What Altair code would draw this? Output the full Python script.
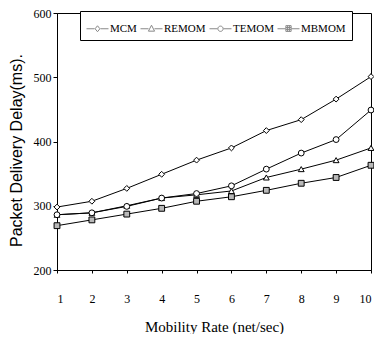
import altair as alt
import pandas as pd

rates = [1, 2, 3, 4, 5, 6, 7, 8, 9, 10]
series_names = ["MCM", "REMOM", "TEMOM", "MBMOM"]
mcm = [298, 307, 327, 349, 371, 390, 417, 434, 466, 501]
remom = [286, 289, 300, 312, 317, 323, 344, 357, 371, 390]
temom = [286, 289, 299, 312, 319, 331, 357, 382, 403, 449]
mbmom = [269, 278, 287, 296, 307, 314, 324, 335, 344, 363]
y_ticks = [200, 300, 400, 500, 600]

rows = []
for name, vals in zip(series_names, [mcm, remom, temom, mbmom]):
    for r, v in zip(rates, vals):
        rows.append({"rate": r, "delay": v, "series": name})
df = pd.DataFrame(rows)

FONT = "Liberation Serif"

x = alt.X("rate:Q", scale=alt.Scale(domain=[1, 10], nice=False),
          axis=alt.Axis(values=rates, title="Mobility Rate (net/sec)", grid=False,
                        labelPadding=20, tickSize=3, titlePadding=15, format="d",
                        titleFontSize=15))
y = alt.Y("delay:Q", scale=alt.Scale(domain=[200, 600], nice=False),
          axis=alt.Axis(values=y_ticks, title="Packet Delivery Delay(ms).", grid=False,
                        tickSize=4, labelPadding=2, titlePadding=9, titleY=137,
                        titleFont="Liberation Sans", titleFontSize=16))

lines = alt.Chart(df).mark_line(color="black", strokeWidth=1).encode(
    x=x, y=y, detail="series:N"
)

shape_scale = alt.Scale(domain=series_names, range=["diamond", "triangle-up", "circle", "square"])
fill_scale = alt.Scale(domain=series_names, range=["white", "white", "white", "#b8b8b8"])

points = alt.Chart(df).mark_point(stroke="black", strokeWidth=1, filled=True, size=34, opacity=1).encode(
    x=x, y=y,
    shape=alt.Shape("series:N", scale=shape_scale, legend=None),
    fill=alt.Fill("series:N", scale=fill_scale, legend=None),
)

# legend symbols: a short line with the marker in the middle
L = "M-1,0H-0.27M0.27,0H1"
leg_paths = [
    L + "M0,-0.27L0.22,0L0,0.27L-0.22,0Z",
    L + "M0,-0.32L0.28,0.22L-0.28,0.22Z",
    L + "M0.24,0A0.24,0.24 0 1,1 -0.24,0A0.24,0.24 0 1,1 0.24,0Z",
    L + "M-0.24,-0.28H0.24V0.24H-0.24ZM-0.08,-0.28V0.24M0.08,-0.28V0.24M-0.24,-0.11H0.24M-0.24,0.06H0.24",
]
leg_shape_scale = alt.Scale(domain=series_names, range=leg_paths)
leg_color_scale = alt.Scale(domain=series_names, range=["black"] * 4)
leg = alt.Legend(title=None, orient="none", legendX=23, legendY=-2,
                 direction="horizontal", columns=4,
                 strokeColor="black", fillColor="white",
                 padding=6, columnPadding=1, symbolSize=484, labelOffset=1,
                 symbolOpacity=1, symbolStrokeWidth=1,
                 labelFont=FONT, labelFontSize=11, labelColor="black")

legend_layer = alt.Chart(df).mark_point(filled=False, opacity=0, size=484, strokeWidth=1).encode(
    x=x, y=y,
    shape=alt.Shape("series:N", scale=leg_shape_scale, sort=series_names, legend=leg),
    color=alt.Color("series:N", scale=leg_color_scale, sort=series_names, legend=leg),
)

chart = alt.layer(lines, points, legend_layer).resolve_scale(
    shape="independent"
).properties(
    width=314, height=257,
    autosize=alt.AutoSizeParams(type="none"),
    padding={"left": 49, "top": 5, "right": 3, "bottom": 64},
).configure_view(
    stroke="black", strokeWidth=1
).configure_axis(
    labelFont=FONT, titleFont=FONT, labelFontSize=12, titleFontSize=13,
    titleFontWeight="normal", labelColor="black", titleColor="black",
    domainColor="black", tickColor="black", domainWidth=1
)

chart.save("out.html", embed_options={"renderer": "svg", "actions": False})
